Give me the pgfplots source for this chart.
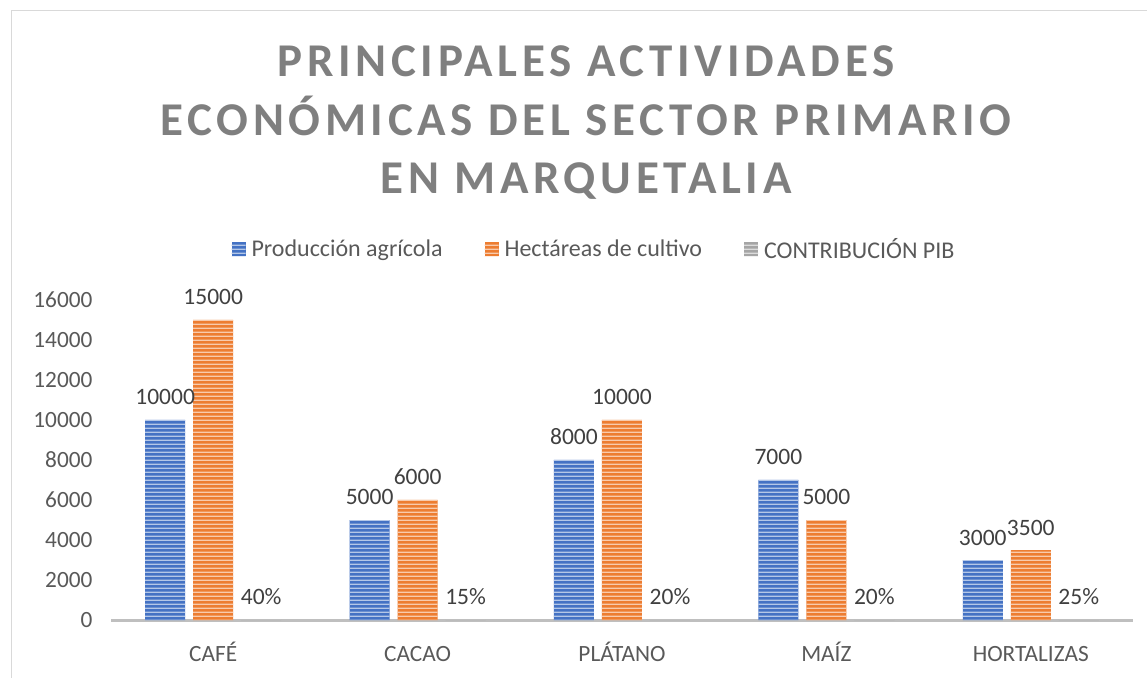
\documentclass[border=0pt]{standalone}
\usepackage{pgfplots}
\pgfplotsset{compat=1.18}
\usepackage{fontspec}
\setmainfont{Carlito}
\newfontfamily\titlefont[LetterSpace=10]{Carlito}
\usetikzlibrary{patterns}
\definecolor{c1}{HTML}{4472C4}
\definecolor{c2}{HTML}{ED7D31}
\definecolor{c3}{HTML}{A5A5A5}
\definecolor{tick}{HTML}{595959}
\definecolor{lbl}{HTML}{404040}
\definecolor{ttl}{HTML}{7F7F7F}
\definecolor{brd}{HTML}{D9D9D9}
\definecolor{axl}{HTML}{BFBFBF}
\pgfdeclarepatternformonly{hstripes}{\pgfpoint{0pt}{0pt}}{\pgfpoint{2000pt}{3.7pt}}{\pgfpoint{2000pt}{3.7pt}}{%
  \pgfpathrectangle{\pgfpoint{0pt}{1.2pt}}{\pgfpoint{2000pt}{1.3pt}}\pgfusepath{fill}}
\tikzset{
  stripe/.style={fill=#1, draw=none, postaction={pattern=hstripes, pattern color=white!60!#1}}
}
\begin{document}
\begin{tikzpicture}[x=1pt,y=1pt]
\path[use as bounding box] (0,0) rectangle (1147,677);
\draw[brd, line width=1.5pt] (11.5,-5) -- (11.5,666.5) -- (1160,666.5);
\node[font=\titlefont\bfseries\fontsize{47}{58.5}\selectfont, text=ttl, align=center] at (586,554)
  {PRINCIPALES ACTIVIDADES\\ECONÓMICAS DEL SECTOR PRIMARIO\\EN MARQUETALIA};
\begin{axis}[
  at={(111pt,57pt)}, anchor=south west,
  scale only axis, width=1022pt, height=320pt,
  ybar=8pt, bar width=40pt,
  xmin=-0.5, xmax=4.5, ymin=0, ymax=16000,
  xtick={0,1,2,3,4},
  xticklabels={CAFÉ,CACAO,PLÁTANO,MAÍZ,HORTALIZAS},
  ytick={0,2000,...,16000},
  scaled y ticks=false,
  axis lines*=left,
  y axis line style={draw=none},
  x axis line style={axl, line width=3pt, -},
  major tick length=0pt,
  /pgf/number format/assume math mode=true,
  /pgf/number format/set thousands separator={},
  tick label style={font=\fontsize{23.3}{27}\selectfont, text=tick},
  yticklabel style={anchor=east, xshift=-15pt},
  xticklabel style={anchor=base, yshift=-41pt},
  point meta=explicit symbolic,
  nodes near coords,
  nodes near coords style={font=\fontsize{23.5}{27}\selectfont, text=lbl, anchor=base, yshift=15pt},
  legend columns=3,
  legend style={at={(0.4726,1.159)}, anchor=center, draw=none, fill=none,
    font=\fontsize{24}{28}\selectfont, text=tick,
    /tikz/every odd column/.append style={column sep=4pt},
    /tikz/every even column/.append style={column sep=40pt}},
  legend image code/.code={\path[#1] (0pt,-7pt) rectangle (14pt,7pt);},
]
\addplot[stripe=c1] coordinates {(0,10000)[10000] (1,5000)[5000] (2,8000)[8000] (3,7000)[7000] (4,3000)[3000]};
\addplot[stripe=c2] coordinates {(0,15000)[15000] (1,6000)[6000] (2,10000)[10000] (3,5000)[5000] (4,3500)[3500]};
\addplot[stripe=c3] coordinates {(0,0.40)[40\%] (1,0.15)[15\%] (2,0.20)[20\%] (3,0.20)[20\%] (4,0.25)[25\%]};
\legend{Producción agrícola, Hectáreas de cultivo, CONTRIBUCIÓN PIB}
\end{axis}
\end{tikzpicture}
\end{document}
